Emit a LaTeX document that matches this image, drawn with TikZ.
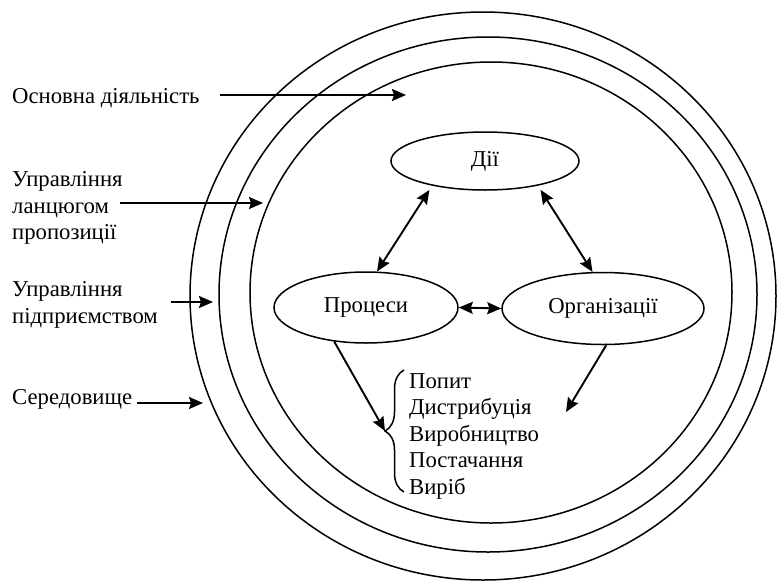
\documentclass[tikz,border=0pt]{standalone}
\usepackage{fontspec}
\setmainfont{Liberation Serif}
\usepackage{tikz}
\usetikzlibrary{arrows.meta}
\usetikzlibrary{shapes.geometric}
\usetikzlibrary{decorations.pathreplacing}
\usetikzlibrary{positioning}

\tikzset{
  ring/.style={line width=1.5pt},
  oval/.style={draw,ellipse,line width=1.5pt,inner sep=0pt},
  lbl/.style={anchor=west,align=left,inner sep=0pt},
  link/.style={line width=1.9pt},
}

\begin{document}
\begin{tikzpicture}[x=1pt,y=-1pt,>={Stealth[length=14pt,width=12pt,inset=2pt]},
  font=\fontsize{22.7}{26.5}\selectfont]
\useasboundingbox (0,0) rectangle (777,582);
%Draw the three rings
  \draw[ring] (483,296) ellipse [x radius=293pt,y radius=284pt];
  \draw[ring] (488,294.5) ellipse [x radius=269pt,y radius=257.5pt];
  \draw[ring] (491,292.5) ellipse [x radius=241pt,y radius=230.5pt];

%Labels on the left
  \node[lbl] (osn) at (12,98) {Основна діяльність};
  \node[lbl] (lanc) at (12,208) {Управління\\ланцюгом\\пропозиції};
  \node[lbl] (pidpr) at (12,305) {Управління\\підприємством};
  \node[lbl] (sered) at (12,399) {Середовище};

  \coordinate (osnend) at (406,95);
  \coordinate (lancend) at (263,203);
  \coordinate (pidprend) at (213,302);
  \coordinate (seredend) at (203,403);

  \draw[->,link,shorten <=20pt] (osn.east |- osnend) -- (osnend);
  \draw[->,link,shorten <=-3pt] (lanc.east |- lancend) -- (lancend);
  \draw[->,link,shorten <=13pt] (pidpr.east |- pidprend) -- (pidprend);
  \draw[->,link,shorten <=5pt] (sered.east |- seredend) -- (seredend);

%Core
  \node[oval,minimum width=188pt,minimum height=58pt] (dii) at (485,161) {Дії};
  \node[oval,minimum width=184pt,minimum height=71pt] (proc) at (366,307.5) {Процеси};
  \node[oval,minimum width=202pt,minimum height=72pt] (org) at (603,308.5) {Організації};
  \node[lbl,anchor=north west] (list) at (409,373)
    {Попит\\Дистрибуція\\Виробництво\\Постачання\\Виріб};

  \coordinate (btop) at (404,370);
  \coordinate (bbot) at (404,492);
  \coordinate (btip) at (385,431);
  \coordinate (oend) at (566,412);
  \draw[decorate,decoration={brace,amplitude=19pt},line width=1.5pt] (bbot) -- (btop);

  \draw[<->,link,shorten <=5pt] (dii.205) -- (proc.73);
  \draw[<->,link,shorten <=5pt] (dii.335) -- (org.106);
  \draw[<->,link] (proc.east) -- (org.west);
  \draw[->,link] (proc.227) -- (btip);
  \draw[->,link] (org.275) -- (oend);
\end{tikzpicture}
\end{document}
